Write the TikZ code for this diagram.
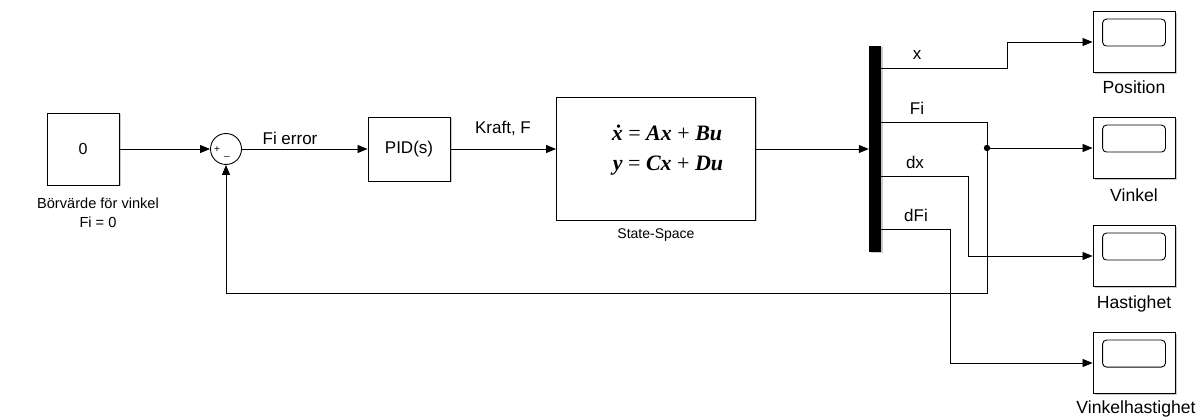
\documentclass[tikz,border=0pt]{standalone}
\usepackage{fontspec}
\setmainfont{Liberation Sans}
\newfontfamily\eqfont{Liberation Serif}
\usetikzlibrary{arrows.meta,shadows}
\begin{document}
\begin{tikzpicture}[x=1pt,y=-1pt,
  font=\fontsize{17}{20}\selectfont,
  blk/.style={draw,line width=0.9pt,fill=white,inner sep=0pt,
    drop shadow={shadow xshift=1.5pt,shadow yshift=-1.5pt,fill=black!35,opacity=0.6}},
  wire/.style={line width=0.8pt},
  sig/.style={wire,-{Triangle[length=10pt,width=8pt]}},
  lbl/.style={inner sep=0pt},
  scopelbl/.style={inner sep=0pt,font=\fontsize{17.6}{20}\selectfont},
  eqlbl/.style={inner sep=0pt,font=\eqfont\bfseries\itshape\fontsize{22}{24}\selectfont},
  scopeblk/.style={blk,minimum width=82pt,minimum height=61pt},
]
\useasboundingbox (0,0) rectangle (1204,419);

% blocks
\node[blk,minimum width=72pt,minimum height=72pt,font=\fontsize{16}{18}\selectfont] (const) at (83,149) {0};
\node[lbl,align=center,font=\fontsize{14.6}{19}\selectfont] (constlbl) at (98,213) {Börvärde för vinkel\\Fi = 0};

\node[draw,circle,line width=0.9pt,minimum size=31pt,inner sep=0pt,fill=white] (sum) at (226,149) {};
\node[lbl,font=\fontsize{10}{10}\selectfont] (plus) at (217,150) {+};
\node[lbl,font=\fontsize{10}{10}\selectfont] (minus) at (227,156) {\_};

\node[blk,minimum width=82pt,minimum height=64pt] (pid) at (409,149) {PID(s)};

\node[blk,minimum width=199pt,minimum height=123pt] (ss) at (656,158.5) {};
\node[eqlbl] (eq1) at (667,133) {\.{x} \textup{\mdseries=} Ax \textup{\mdseries+} Bu};
\node[eqlbl] (eq2) at (668,166) {y \textup{\mdseries=} Cx \textup{\mdseries+} Du};
\node[lbl,font=\fontsize{14}{16}\selectfont] (sslbl) at (656,235) {State-Space};

\node[fill=black,minimum width=12pt,minimum height=206pt,inner sep=0pt,
  drop shadow={shadow xshift=1.5pt,shadow yshift=-1.5pt,fill=black!35,opacity=0.6}] (demux) at (875,149) {};

\node[scopeblk] (pos) at (1134,42) {};
\node[scopeblk] (vink) at (1134,148) {};
\node[scopeblk] (hast) at (1134,256) {};
\node[scopeblk] (vhast) at (1134,363) {};
\foreach \s in {pos,vink,hast,vhast}{
  \draw[line width=0.9pt,rounded corners=4pt] ([xshift=10pt,yshift=-8pt]\s.north west) rectangle ([xshift=-10pt,yshift=-35pt]\s.north east);
}
\node[scopelbl] (poslbl) at (1134,87) {Position};
\node[scopelbl] (vinklbl) at (1134,195) {Vinkel};
\node[scopelbl] (hastlbl) at (1134,304) {Hastighet};
\node[scopelbl] (vhastlbl) at (1136,409) {Vinkelhastighet};

% demux ports
\coordinate (ox) at (881,68);
\coordinate (oFi) at (881,122);
\coordinate (odx) at (881,176);
\coordinate (odFi) at (881,229);
\coordinate (jn) at (987,148);

% connectors
\draw[sig] (const.east) -- (sum.west);
\draw[sig] (sum.east) -- (pid.west);
\node[lbl] (fierr) at (290,138) {Fi error};
\draw[sig] (pid.east) -- (ss.west |- pid.east);
\node[lbl] (kraft) at (503,128) {Kraft, F};
\draw[sig] (ss.east |- pid.east) -- (demux.west |- pid.east);

\draw[sig] (ox) -- (1007,68) -- (1007,42) -- (pos.west);
\draw[sig] (oFi) -- (987,122) -- (jn) -- (vink.west);
\draw[sig] (jn) -- (987,293) -- (226,293) -- (sum.south);
\draw[sig] (odx) -- (968,176) -- (968,256) -- (hast.west);
\draw[sig] (odFi) -- (950,229) -- (950,363) -- (vhast.west);
\fill (jn) circle (3.2pt);

\node[lbl] (lx) at (917,55) {x};
\node[lbl] (lFi) at (917,108) {Fi};
\node[lbl] (ldx) at (915,162) {dx};
\node[lbl] (ldFi) at (916,215) {dFi};
\end{tikzpicture}
\end{document}
